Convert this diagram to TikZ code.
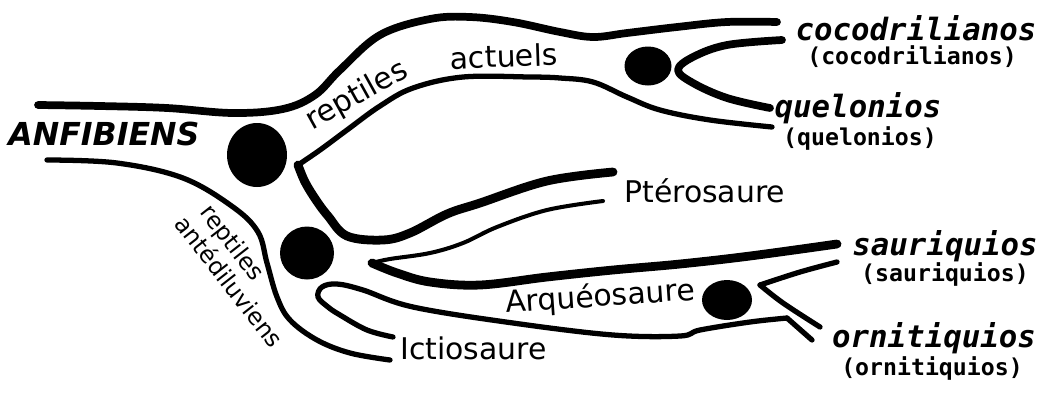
\documentclass[tikz,border=0pt]{standalone}
\usepackage{fontspec}
\setmainfont{DejaVu Sans}
\newfontfamily\monofont{DejaVu Sans Mono}
\usetikzlibrary{shapes.geometric}
\begin{document}
\begin{tikzpicture}[x=0.02cm,y=-0.02cm, line cap=round, line join=round,
  edge/.style={line width=3pt},
  thickedge/.style={line width=4.4pt},
  heavyedge/.style={line width=5pt},
  thinedge/.style={line width=2.3pt},
  ball/.style={shape=ellipse, fill=black, inner sep=0pt},
  lbl/.style={font=\fontsize{17}{20}\selectfont, inner sep=0pt},
  small/.style={font=\fontsize{13.5}{15.5}\selectfont, inner sep=0pt},
  fancy/.style={font=\monofont\bfseries\itshape\fontsize{17.5}{20}\selectfont, inner sep=0pt, anchor=base},
  paren/.style={font=\monofont\bfseries\fontsize{13.2}{15}\selectfont, inner sep=0pt, anchor=base},
  ]
\useasboundingbox (0,0) rectangle (1053,403);

% balls
\node[ball, minimum width=1.2cm, minimum height=1.28cm] (b1) at (257,155) {};
\node[ball, minimum width=1.08cm, minimum height=1.06cm] (b2) at (307,253) {};
\node[ball, minimum width=0.94cm, minimum height=0.78cm] (b3) at (648,66) {};
\node[ball, minimum width=1.0cm, minimum height=0.8cm] (b4) at (727,300) {};

% top boundary: anfibiens -> reptiles actuels -> cocodrilianos
\draw[thickedge] plot[smooth, tension=0.6] coordinates {(38,105) (100,106) (167,108) (233,113) (283,109) (315,95) (340,70) (380,35) (430,19) (470,17) (513,22) (560,32) (593,37) (627,33) (677,27) (727,22) (777,22)};

% lower boundary of reptiles actuels (from quelonios)
\draw[edge] plot[smooth, tension=0.6] coordinates {(772,127) (710,120) (660,110) (627,97) (593,82) (560,78) (530,77) (463,77) (413,88) (380,106) (347,130) (320,150) (298,165)};
% down to pterosaure upper
\draw[heavyedge] plot[smooth, tension=0.6] coordinates {(298,165) (305,182) (316,200) (328,216) (347,236) (383,240) (410,233) (447,214) (480,203) (547,181) (613,172)};

% cocodrilianos / quelonios inner
\draw[thickedge] plot[smooth, tension=0.6] coordinates {(782,40) (727,45) (693,57) (678,70) (693,83) (727,98) (770,108)};

% pterosaure lower (thin)
\draw[thinedge] plot[smooth, tension=0.6] coordinates {(603,201) (547,210) (497,227) (463,243) (430,253) (390,259) (372,263)};
% arqueosaure upper -> sauriquios
\draw[heavyedge] plot[smooth, tension=0.6] coordinates {(372,263) (397,273) (430,282) (480,285) (547,277) (613,270) (680,264) (750,256) (837,244)};

% sauriquios / ornitiquios inner
\draw[edge] plot[smooth, tension=0.6] coordinates {(837,262) (800,272) (760,285)};
\draw[edge] plot[smooth, tension=0.6] coordinates {(760,285) (783,303) (820,327)};

% arqueosaure lower -> ictiosaure upper loop
\draw[edge] plot[smooth, tension=0.6] coordinates {(787,318) (750,322) (700,330) (680,336) (613,335) (513,323) (413,307) (363,290) (337,284) (322,287) (318,297) (328,307) (340,315) (367,330) (393,337)};
\draw[edge] (787,318) -- (812,340);

% outer boundary: anfibiens lower -> antediluviens -> ictiosaure lower
\draw[edge] plot[smooth, tension=0.6] coordinates {(47,160) (117,163) (183,178) (233,207) (258,232) (267,263) (277,297) (290,320) (317,340) (350,353) (390,360)};

% labels
\node[font=\bfseries\itshape\fontsize{18}{20}\selectfont, inner sep=0pt, anchor=base west] (anf) at (8,145) {ANFIBIENS};
\node[lbl, rotate=29] (rep1) at (357,96) {reptiles};
\node[lbl, rotate=2] (act) at (504,56) {actuels};
\node[lbl, anchor=base west] (ptero) at (624,202) {Ptérosaure};
\node[lbl, anchor=base west, rotate=4] (arq) at (506,313) {Arquéosaure};
\node[lbl, anchor=base west] (ict) at (400,359) {Ictiosaure};
\node[small, rotate=-52, align=left] (ante) at (240,273) {\hspace*{4pt}reptiles\\antédiluviens};

\node[fancy] (coc) at (916,40) {cocodrilianos};
\node[paren] (coc2) at (912,64) {(cocodrilianos)};
\node[fancy] (que) at (858,117) {quelonios};
\node[paren] (que2) at (860,145) {(quelonios)};
\node[fancy] (sau) at (945,255) {sauriquios};
\node[paren] (sau2) at (945,281) {(sauriquios)};
\node[fancy] (orn) at (934,347) {ornitiquios};
\node[paren] (orn2) at (932,375) {(ornitiquios)};
\end{tikzpicture}
\end{document}
